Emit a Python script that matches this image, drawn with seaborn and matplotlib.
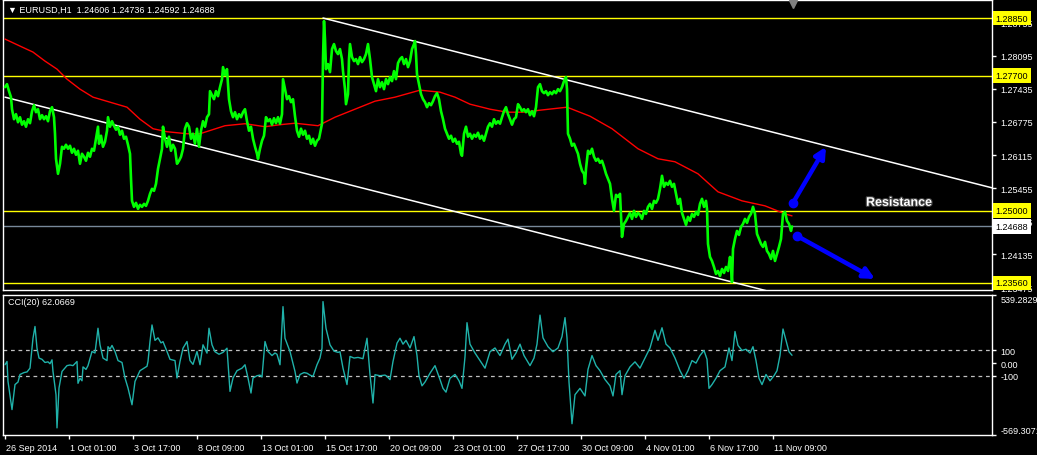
import matplotlib
matplotlib.use("Agg")
import matplotlib.pyplot as plt
import matplotlib.transforms as mtransforms
import matplotlib.patheffects as pe
import seaborn as sns

# ---------------- data ----------------
# hourly bar index (0 = 26 Sep 2014) and close prices
price_bar = [
    0, 2, 4, 6, 7, 9, 11, 13, 15, 17,
    19, 21, 23, 25, 27, 29, 31, 33, 35, 37,
    39, 41, 43, 45, 47, 49, 50, 51, 53, 55,
    57, 59, 61, 63, 65, 67, 69, 71, 73, 75,
    77, 79, 81, 83, 85, 87, 89, 91, 93, 94,
    96, 98, 100, 102, 103, 105, 107, 109, 111, 113,
    115, 117, 119, 121, 123, 125, 126, 127, 129, 131,
    133, 135, 137, 139, 141, 143, 145, 147, 149, 151,
    153, 155, 157, 158, 160, 162, 164, 166, 168, 170,
    172, 174, 176, 178, 180, 182, 184, 186, 188, 190,
    192, 194, 196, 198, 200, 202, 204, 205, 207, 209,
    211, 213, 215, 217, 218, 220, 222, 224, 226, 228,
    230, 232, 234, 236, 238, 240, 242, 244, 246, 248,
    250, 252, 253, 255, 257, 259, 261, 263, 265, 267,
    269, 271, 273, 275, 277, 278, 280, 282, 284, 286,
    288, 290, 292, 294, 296, 298, 300, 302, 304, 306,
    308, 310, 312, 314, 316, 317, 318, 319, 320, 321,
    323, 325, 327, 329, 331, 333, 335, 337, 338, 340,
    341, 343, 344, 345, 347, 349, 351, 353, 355, 357,
    359, 361, 363, 365, 367, 369, 371, 373, 375, 377,
    379, 381, 383, 385, 387, 389, 391, 393, 395, 397,
    399, 401, 403, 405, 407, 409, 410, 411, 412, 414,
    416, 418, 420, 422, 424, 426, 428, 430, 432, 434,
    436, 438, 440, 442, 444, 446, 448, 450, 452, 454,
    456, 457, 459, 461, 463, 465, 467, 469, 471, 473,
    475, 477, 479, 481, 483, 485, 487, 489, 491, 493,
    495, 497, 499, 501, 503, 505, 507, 509, 511, 513,
    515, 517, 519, 521, 523, 525, 527, 529, 531, 533,
    535, 537, 539, 541, 543, 545, 547, 549, 551, 553,
    555, 557, 559, 561, 562, 563, 565, 567, 569, 571,
    573, 575, 577, 579, 580, 581, 583, 585, 587, 589,
    591, 593, 595, 597, 599, 601, 603, 605, 607, 609,
    611, 613, 615, 617, 619, 621, 623, 625, 627, 629,
    631, 633, 635, 637, 639, 641, 643, 645, 647, 649,
    651, 653, 655, 657, 659, 661, 663, 665, 667, 669,
    671, 673, 675, 677, 679, 681, 683, 685, 687, 689,
    691, 693, 695, 697, 699, 701, 702, 703, 705, 707,
    709, 711, 713, 715, 717, 719, 721, 723, 725, 726,
    727, 728, 730, 732, 734, 736, 738, 740, 742, 744,
    746, 748, 750, 752, 754, 756, 758, 760, 762, 764,
    766, 768, 770, 772, 774, 776, 778, 780, 782, 784,
    786, 787,
]
price_close = [
    1.2747, 1.2753, 1.2739, 1.2727, 1.2703, 1.2683, 1.2693, 1.2677, 1.2687, 1.2672,
    1.2679, 1.2668, 1.2683, 1.2675, 1.2699, 1.2711, 1.2697, 1.2703, 1.2683, 1.2691,
    1.2683, 1.2689, 1.2679, 1.2699, 1.2707, 1.2687, 1.2654, 1.2604, 1.2574, 1.2594,
    1.2628, 1.2624, 1.2632, 1.2624, 1.2630, 1.2616, 1.2624, 1.2612, 1.2620, 1.2594,
    1.2614, 1.2608, 1.2600, 1.2616, 1.2608, 1.2624, 1.2620, 1.2644, 1.2668, 1.2634,
    1.2650, 1.2628, 1.2638, 1.2660, 1.2687, 1.2668, 1.2679, 1.2670, 1.2662, 1.2668,
    1.2652, 1.2660, 1.2644, 1.2648, 1.2632, 1.2614, 1.2564, 1.2520, 1.2508, 1.2516,
    1.2504, 1.2512, 1.2508, 1.2514, 1.2510, 1.2520, 1.2534, 1.2544, 1.2540, 1.2554,
    1.2584, 1.2604, 1.2624, 1.2668, 1.2644, 1.2628, 1.2648, 1.2620, 1.2632, 1.2624,
    1.2594, 1.2600, 1.2608, 1.2624, 1.2664, 1.2675, 1.2668, 1.2644, 1.2654, 1.2634,
    1.2664, 1.2628, 1.2660, 1.2679, 1.2668, 1.2687, 1.2693, 1.2739, 1.2731, 1.2723,
    1.2739, 1.2729, 1.2747, 1.2763, 1.2787, 1.2771, 1.2783, 1.2723, 1.2699, 1.2687,
    1.2697, 1.2683, 1.2693, 1.2687, 1.2697, 1.2703, 1.2679, 1.2660, 1.2668, 1.2644,
    1.2628, 1.2614, 1.2604, 1.2624, 1.2640, 1.2650, 1.2687, 1.2679, 1.2683, 1.2672,
    1.2685, 1.2675, 1.2687, 1.2674, 1.2693, 1.2763, 1.2743, 1.2723, 1.2729, 1.2717,
    1.2723, 1.2689, 1.2660, 1.2648, 1.2664, 1.2652, 1.2660, 1.2644, 1.2650, 1.2634,
    1.2644, 1.2630, 1.2640, 1.2644, 1.2664, 1.2674, 1.2803, 1.2879, 1.2843, 1.2783,
    1.2793, 1.2777, 1.2823, 1.2833, 1.2819, 1.2813, 1.2823, 1.2803, 1.2779, 1.2743,
    1.2713, 1.2733, 1.2803, 1.2833, 1.2807, 1.2799, 1.2803, 1.2793, 1.2807, 1.2797,
    1.2803, 1.2813, 1.2833, 1.2803, 1.2767, 1.2753, 1.2739, 1.2763, 1.2747, 1.2757,
    1.2743, 1.2763, 1.2753, 1.2767, 1.2759, 1.2779, 1.2763, 1.2795, 1.2803, 1.2807,
    1.2793, 1.2803, 1.2787, 1.2799, 1.2823, 1.2833, 1.2839, 1.2813, 1.2773, 1.2753,
    1.2733, 1.2723, 1.2717, 1.2707, 1.2715, 1.2711, 1.2719, 1.2729, 1.2735, 1.2723,
    1.2699, 1.2683, 1.2664, 1.2654, 1.2644, 1.2650, 1.2638, 1.2644, 1.2634, 1.2638,
    1.2614, 1.2610, 1.2654, 1.2668, 1.2648, 1.2654, 1.2644, 1.2652, 1.2648, 1.2656,
    1.2644, 1.2650, 1.2640, 1.2654, 1.2668, 1.2675, 1.2668, 1.2683, 1.2674, 1.2679,
    1.2674, 1.2687, 1.2699, 1.2707, 1.2693, 1.2683, 1.2672, 1.2683, 1.2687, 1.2713,
    1.2707, 1.2699, 1.2703, 1.2697, 1.2703, 1.2691, 1.2699, 1.2689, 1.2707, 1.2747,
    1.2753, 1.2739, 1.2735, 1.2739, 1.2731, 1.2737, 1.2733, 1.2739, 1.2735, 1.2743,
    1.2739, 1.2747, 1.2759, 1.2767, 1.2743, 1.2654, 1.2644, 1.2630, 1.2634, 1.2624,
    1.2614, 1.2594, 1.2580, 1.2574, 1.2554, 1.2584, 1.2620, 1.2614, 1.2624, 1.2608,
    1.2600, 1.2604, 1.2596, 1.2600, 1.2588, 1.2574, 1.2564, 1.2554, 1.2524, 1.2500,
    1.2532, 1.2528, 1.2534, 1.2448, 1.2474, 1.2480, 1.2488, 1.2496, 1.2484, 1.2500,
    1.2488, 1.2496, 1.2492, 1.2484, 1.2500, 1.2494, 1.2508, 1.2514, 1.2504, 1.2520,
    1.2516, 1.2524, 1.2544, 1.2570, 1.2548, 1.2556, 1.2552, 1.2560, 1.2548, 1.2554,
    1.2534, 1.2514, 1.2524, 1.2496, 1.2484, 1.2472, 1.2488, 1.2480, 1.2494, 1.2488,
    1.2498, 1.2492, 1.2514, 1.2524, 1.2508, 1.2520, 1.2504, 1.2434, 1.2408, 1.2400,
    1.2388, 1.2374, 1.2380, 1.2370, 1.2384, 1.2376, 1.2388, 1.2380, 1.2408, 1.2388,
    1.2358, 1.2424, 1.2444, 1.2460, 1.2452, 1.2468, 1.2474, 1.2484, 1.2476, 1.2488,
    1.2494, 1.2508, 1.2494, 1.2454, 1.2444, 1.2434, 1.2428, 1.2438, 1.2420, 1.2414,
    1.2404, 1.2420, 1.2400, 1.2414, 1.2428, 1.2444, 1.2494, 1.2498, 1.2480, 1.2474,
    1.2460, 1.24688,
]

# moving average (red)
ma_bar = [0, 15, 28, 40, 52, 62, 75, 88, 105, 122,
          135, 148, 162, 182, 195, 220, 240, 260, 275, 290,
          313, 330, 350, 370, 390, 415, 435, 450, 465, 485,
          502, 518, 535, 562, 585, 607, 620, 633, 653, 670,
          693, 713, 737, 760, 780, 787]
ma_value = [1.2843, 1.2829, 1.2817, 1.2799, 1.2783, 1.2763, 1.2743, 1.2727, 1.2717, 1.2707,
            1.2683, 1.2664, 1.2658, 1.2654, 1.2654, 1.2670, 1.2674, 1.2668, 1.2672, 1.2675,
            1.2670, 1.2687, 1.2703, 1.2719, 1.2727, 1.2741, 1.2737, 1.2727, 1.2713, 1.2703,
            1.2697, 1.2697, 1.2701, 1.2707, 1.2689, 1.2664, 1.2644, 1.2624, 1.2604, 1.2598,
            1.2574, 1.2538, 1.2520, 1.2510, 1.2494, 1.2490]

# CCI(20)
cci_bar = [
    0, 2, 3, 7, 8, 10, 13, 15, 19, 22,
    25, 26, 28, 30, 32, 34, 37, 40, 43, 45,
    47, 48, 51, 52, 54, 57, 62, 65, 68, 72,
    73, 75, 77, 78, 81, 83, 87, 90, 93, 95,
    98, 102, 103, 105, 107, 110, 113, 117, 120, 123,
    127, 130, 135, 139, 142, 143, 145, 147, 150, 153,
    156, 158, 162, 165, 170, 172, 175, 178, 182, 185,
    188, 192, 195, 198, 202, 204, 207, 210, 214, 218,
    222, 225, 228, 232, 237, 240, 243, 246, 248, 252,
    255, 257, 260, 263, 267, 270, 272, 275, 278, 280,
    285, 290, 292, 295, 299, 302, 305, 308, 312, 315,
    317, 318, 321, 325, 329, 333, 335, 338, 342, 345,
    349, 353, 358, 362, 365, 368, 370, 375, 380, 382,
    385, 388, 392, 395, 398, 401, 405, 409, 412, 414,
    417, 420, 425, 430, 435, 438, 441, 445, 450, 454,
    457, 460, 462, 465, 470, 475, 480, 485, 490, 495,
    500, 503, 507, 511, 515, 519, 525, 529, 532, 535,
    538, 543, 548, 553, 557, 560, 562, 564, 567, 570,
    575, 580, 583, 587, 591, 595, 600, 605, 608, 611,
    615, 617, 620, 625, 630, 635, 640, 645, 650, 653,
    657, 661, 665, 670, 675, 679, 683, 687, 691, 695,
    699, 702, 704, 707, 711, 715, 720, 724, 727, 730,
    733, 737, 741, 745, 748, 751, 754, 757, 761, 765,
    769, 772, 775, 778, 781, 784, 787,
]
cci_value = [
    -13, 13, -145, -368, -302, -170, -150, -90, -75, -70,
    -40, 40, 197, 290, 118, 40, 30, 5, 10, -5,
    26, -66, -250, -513, -197, -66, -20, -15, -20, 13,
    -160, -120, -140, -30, -50, -20, 92, 80, 276, 145,
    40, 20, 130, 110, 140, 92, 20, 5, -118, -197,
    -330, -145, -60, -40, -25, 13, 171, 302, 180, 200,
    160, 170, 92, 30, 20, -118, 13, 118, 171, 20,
    -10, 92, -13, 145, 79, 276, 145, 90, 70, 85,
    118, -224, -118, -60, -40, -13, -118, -237, -118, -100,
    -95, -110, 171, 92, 60, 80, 70, -13, 447, 197,
    92, -66, -158, -90, -75, -80, -95, -105, -13, 40,
    118, 487, 276, 145, 95, 85, 90, -40, -170, 53,
    40, 45, 35, 197, -92, -316, -92, -100, -95, -105,
    -131, 13, 158, 197, 150, 180, 120, 210, 60, -100,
    -180, -150, -80, -20, -130, -200, -230, -120, -90, -140,
    -200, 50, 320, 150, 80, 20, -40, 90, 120, 60,
    150, 190, 30, 80, 150, 60, -20, 40, 150, 380,
    200, 130, 90, 120, 210, 360, 200, -150, -480, -250,
    -200, -260, -50, 60, -20, -60, -130, -180, -260, -90,
    -60, -250, -100, -30, 10, -40, 40, 120, 260, 180,
    280, 150, 120, 40, -60, -120, -60, 20, 0, 60,
    100, 30, -200, -170, -120, -60, -30, 120, 20, 250,
    140, 100, 110, 80, 130, 20, -120, -170, -90, -140,
    -100, -60, 60, 270, 180, 90, 62.0669,
]

level_prices = [1.28850, 1.27700, 1.25000, 1.23560]
bid_price = 1.24688
price_ticks = [1.28755, 1.28095, 1.27435, 1.26775, 1.26115, 1.25455, 1.24795, 1.24135, 1.23475]
upper_trend_bar = [318, 987]
upper_trend_price = [1.2885, 1.2546]
lower_trend_bar = [0, 727]
lower_trend_price = [1.2727, 1.2358]
arrow_up_bar = [788, 821]
arrow_up_price = [1.2516, 1.2628]
arrow_down_bar = [792, 870]
arrow_down_price = [1.2450, 1.2364]
resistance_bar, resistance_price = 894, 1.2516
date_tick_bars = [0, 64, 128, 192, 256, 320, 384, 448, 512, 576, 640, 704, 768]
date_tick_labels = ["26 Sep 2014", "1 Oct 01:00", "3 Oct 17:00", "8 Oct 09:00",
                    "13 Oct 01:00", "15 Oct 17:00", "20 Oct 09:00", "23 Oct 01:00",
                    "27 Oct 17:00", "30 Oct 09:00", "4 Nov 01:00", "6 Nov 17:00",
                    "11 Nov 09:00"]
cci_levels = [100, -100]
cci_ticks = [539.2829, 100, 0, -100, -569.3071]
cci_tick_labels = ["539.2829", "100", "0.00", "-100", "-569.3071"]
title_text = "EURUSD,H1  1.24606 1.24736 1.24592 1.24688"
cci_text = "CCI(20) 62.0669"

# ---------------- style ----------------
sns.set_theme(style="dark")
plt.rcParams.update({
    "figure.facecolor": "black",
    "axes.facecolor": "black",
    "axes.edgecolor": "white",
    "axes.grid": False,
    "text.color": "white",
    "xtick.color": "white",
    "ytick.color": "white",
    "axes.linewidth": 1.0,
})
plt.rcParams["font.family"] = ["Liberation Sans", "DejaVu Sans"]
FS = 6.5

W, H = 1037, 456
fig = plt.figure(figsize=(W / 100, H / 100), dpi=100, facecolor="black")
ax = fig.add_axes([3 / W, 1 - 291 / H, 989 / W, 290 / H])
ax2 = fig.add_axes([3 / W, 1 - 436 / H, 989 / W, 140 / H])

XLIM = (-2, 987)

# ---------------- main price panel ----------------
for lv in level_prices:
    ax.axhline(lv, color="#FFFF00", lw=1.0, zorder=1)
ax.axhline(bid_price, color="#778899", lw=1.0, zorder=1)

def ray(bars, prices, x_end):
    slope = (prices[1] - prices[0]) / (bars[1] - bars[0])
    return [bars[0], x_end], [prices[0], prices[0] + slope * (x_end - bars[0])]

ux, uy = ray(upper_trend_bar, upper_trend_price, 1100)
lx, ly = ray(lower_trend_bar, lower_trend_price, 1100)
ax.plot(ux, uy, color="white", lw=1.1, zorder=2)
ax.plot(lx, ly, color="white", lw=1.1, zorder=2)

sns.lineplot(x=ma_bar, y=ma_value, ax=ax, color="#FF0000", lw=1.0,
             estimator=None, sort=False, zorder=3)
sns.lineplot(x=price_bar, y=price_close, ax=ax, color="#00FF00", lw=1.9,
             estimator=None, sort=False, zorder=4)

# blue arrows
for bx, py in [(arrow_up_bar, arrow_up_price), (arrow_down_bar, arrow_down_price)]:
    ax.annotate("", xy=(bx[1], py[1]), xytext=(bx[0], py[0]),
                arrowprops=dict(arrowstyle="-|>", color="#0000FF", lw=3.2,
                                mutation_scale=16, shrinkA=0, shrinkB=0),
                zorder=6)
    ax.plot([bx[0]], [py[0]], marker="o", color="#0000FF", ms=6, zorder=6)

ax.text(resistance_bar, resistance_price, "Resistance", color="white",
        fontsize=9, fontweight="bold", ha="center", va="center", zorder=7,
        path_effects=[pe.withStroke(linewidth=1.6, foreground="#404040")])

ax.set_xlim(*XLIM)
ax.set_ylim(1.2342, 1.2921)
ax.set_xlabel("")
ax.set_ylabel("")
ax.yaxis.tick_right()
ax.set_yticks(price_ticks)
ax.set_yticklabels([f"{t:.5f}" for t in price_ticks])
ax.tick_params(axis="y", right=True, left=False, labelright=True, labelleft=False,
               length=3, width=1, direction="out", pad=3, labelsize=FS, colors="white")
ax.tick_params(axis="x", bottom=False, labelbottom=False)
for s in ax.spines.values():
    s.set_color("white")
    s.set_linewidth(1.0)

# price level boxes on the axis
trans_lbl = mtransforms.blended_transform_factory(ax.transAxes, ax.transData)
for lv in level_prices:
    ax.text(1.0035, lv, f"{lv:.5f}", transform=trans_lbl, ha="left", va="center",
            fontsize=FS, color="black", clip_on=False, zorder=10,
            bbox=dict(boxstyle="square,pad=0.32", fc="#FFFF00", ec="none"))
ax.text(1.0035, bid_price, f"{bid_price:.5f}", transform=trans_lbl, ha="left", va="center",
        fontsize=FS, color="black", clip_on=False, zorder=10,
        bbox=dict(boxstyle="square,pad=0.32", fc="white", ec="none"))

ax.text(0.005, 0.968, "\u25BC " + title_text, transform=ax.transAxes, fontsize=FS,
        color="white", ha="left", va="center", zorder=8)

# chart-shift marker
trans_shift = mtransforms.blended_transform_factory(ax.transData, ax.transAxes)
ax.plot([788], [0.985], marker="v", color="#808080", ms=6, transform=trans_shift,
        clip_on=False, zorder=9)

# ---------------- CCI panel ----------------
for lv in cci_levels:
    ax2.axhline(lv, color="#C0C0C0", lw=0.9, ls=(0, (3, 3)), zorder=1)
sns.lineplot(x=cci_bar, y=cci_value, ax=ax2, color="#20B2AA", lw=1.0,
             estimator=None, sort=False, zorder=3)
ax2.set_xlim(*XLIM)
ax2.set_ylim(cci_ticks[-1], cci_ticks[0])
ax2.set_xlabel("")
ax2.set_ylabel("")
ax2.yaxis.tick_right()
ax2.set_yticks(cci_ticks)
ax2.set_yticklabels(cci_tick_labels)
ax2.tick_params(axis="y", right=True, left=False, labelright=True, labelleft=False,
                length=3, width=1, direction="out", pad=3, labelsize=FS, colors="white")
lbls = ax2.get_yticklabels()
lbls[0].set_va("top")
lbls[-1].set_va("bottom")
ax2.set_xticks(date_tick_bars)
ax2.set_xticklabels(date_tick_labels)
ax2.tick_params(axis="x", bottom=True, length=3, width=1, direction="out", pad=3,
                labelsize=FS, colors="white")
offset = mtransforms.ScaledTranslation(1 / 72, 0, fig.dpi_scale_trans)
for lab in ax2.get_xticklabels():
    lab.set_ha("left")
    lab.set_transform(lab.get_transform() + offset)
for s in ax2.spines.values():
    s.set_color("white")
    s.set_linewidth(1.0)

ax2.text(0.005, 0.955, cci_text, transform=ax2.transAxes, fontsize=FS,
         color="white", ha="left", va="center")

fig.savefig("out.png", dpi=100, facecolor="black")
